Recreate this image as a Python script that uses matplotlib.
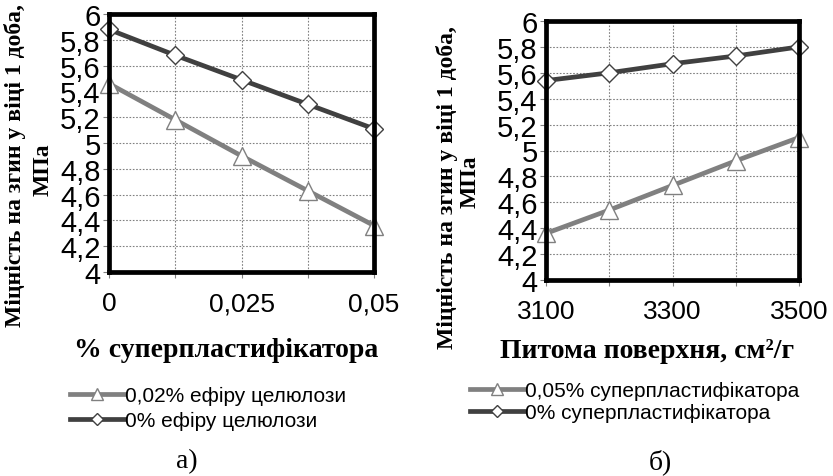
import matplotlib
matplotlib.use("Agg")
import matplotlib.pyplot as plt
from matplotlib.lines import Line2D

# Data
x_a = [0, 0.0125, 0.025, 0.0375, 0.05]
a_tick_labels = ["0", "", "0,025", "", "0,05"]
a_ser1 = [5.46, 5.18, 4.90, 4.63, 4.36]   # 0,02% ефіру целюлози
a_ser2 = [5.88, 5.68, 5.49, 5.30, 5.11]   # 0% ефіру целюлози
a_names = ["0,02% ефіру целюлози", "0% ефіру целюлози"]

x_b = [3100, 3200, 3300, 3400, 3500]
b_tick_labels = ["3100", "", "3300", "", "3500"]
b_ser1 = [4.36, 4.54, 4.73, 4.92, 5.10]   # 0,05% суперпластифікатора
b_ser2 = [5.54, 5.60, 5.67, 5.73, 5.80]   # 0% суперпластифікатора
b_names = ["0,05% суперпластифікатора", "0% суперпластифікатора"]

y_ticks = [4, 4.2, 4.4, 4.6, 4.8, 5, 5.2, 5.4, 5.6, 5.8, 6]
y_tick_labels = ["4", "4,2", "4,4", "4,6", "4,8", "5", "5,2", "5,4", "5,6", "5,8", "6"]

W, H = 833, 477
fig = plt.figure(figsize=(W / 100, H / 100), dpi=100)
fig.patch.set_facecolor("white")

LIGHT = "#808080"
DARK = "#404040"
SANS = "Liberation Sans"
SERIF = "Liberation Serif"


def px_axes(x0, y0, x1, y1):
    return fig.add_axes([x0 / W, 1 - y1 / H, (x1 - x0) / W, (y1 - y0) / H])


def style(ax, xs, xlabels):
    ax.set_xlim(xs[0], xs[-1])
    ax.set_ylim(4, 6)
    ax.set_xticks(xs)
    ax.set_xticklabels(xlabels, fontfamily=SANS, fontsize=19)
    ax.set_yticks(y_ticks)
    ax.set_yticklabels(y_tick_labels, fontfamily=SANS, fontsize=21)
    ax.tick_params(axis="both", direction="out", length=4, width=0.8, color="#808080", pad=2)
    ax.tick_params(axis="x", pad=10)
    ax.grid(True, color="#808080", linestyle=(0, (1.5, 1.5)), linewidth=0.8)
    ax.set_axisbelow(True)
    for s in ax.spines.values():
        s.set_linewidth(3.4)
        s.set_color("black")
        s.set_zorder(5)


def draw(ax, xs, s1, s2):
    ax.plot(xs, s1, color=LIGHT, lw=3.4, marker="^", ms=13, mfc="white",
            mec=LIGHT, mew=1.0, zorder=3, clip_on=False)
    ax.plot(xs, s2, color=DARK, lw=3.4, marker="D", ms=9, mfc="white",
            mec=DARK, mew=1.0, zorder=4, clip_on=False)


# Panel a
axa = px_axes(109, 15, 374, 273)
style(axa, x_a, a_tick_labels)
draw(axa, x_a, a_ser1, a_ser2)

# Panel b
axb = px_axes(546, 22, 799, 281)
style(axb, x_b, b_tick_labels)
draw(axb, x_b, b_ser1, b_ser2)

ylab1 = "Міцність на згин у віці 1 доба,"
ylab2 = "МПа"

# y labels
fig.text(15 / W, 1 - 166 / H, ylab1, rotation=90, ha="center", va="center",
         fontfamily=SERIF, fontweight="bold", fontsize=17)
fig.text(43 / W, 1 - 170 / H, ylab2, rotation=90, ha="center", va="center",
         fontfamily=SERIF, fontweight="bold", fontsize=17)
fig.text(447 / W, 1 - 188 / H, ylab1, rotation=90, ha="center", va="center",
         fontfamily=SERIF, fontweight="bold", fontsize=17)
fig.text(470 / W, 1 - 182 / H, ylab2, rotation=90, ha="center", va="center",
         fontfamily=SERIF, fontweight="bold", fontsize=17)

# x labels
fig.text(226 / W, 1 - 351 / H, "% суперпластифікатора", ha="center", va="center",
         fontfamily=SERIF, fontweight="bold", fontsize=20)
fig.text(647 / W, 1 - 352 / H, "Питома поверхня, см²/г", ha="center", va="center",
         fontfamily=SERIF, fontweight="bold", fontsize=20)


def handles():
    h1 = Line2D([], [], color=LIGHT, lw=3.4, marker="^", ms=9, mfc="white", mec=LIGHT, mew=1.0)
    h2 = Line2D([], [], color=DARK, lw=3.4, marker="D", ms=6, mfc="white", mec=DARK, mew=1.0)
    return [h1, h2]


fig.legend(handles(), a_names, loc="upper left", bbox_to_anchor=(70 / W, 1 - 387 / H),
           frameon=False, prop={"family": SANS, "size": 15}, handlelength=2.6,
           handletextpad=0.05, labelspacing=0.3, borderaxespad=0, borderpad=0)
fig.legend(handles(), b_names, loc="upper left", bbox_to_anchor=(470 / W, 1 - 382 / H),
           frameon=False, prop={"family": SANS, "size": 15}, handlelength=2.6,
           handletextpad=0.05, labelspacing=0.15, borderaxespad=0, borderpad=0)

# captions
fig.text(187 / W, 1 - 462 / H, "а)", ha="center", va="center", fontfamily=SERIF, fontsize=20)
fig.text(660 / W, 1 - 462 / H, "б)", ha="center", va="center", fontfamily=SERIF, fontsize=20)

fig.savefig("out.png", dpi=100, facecolor="white")
